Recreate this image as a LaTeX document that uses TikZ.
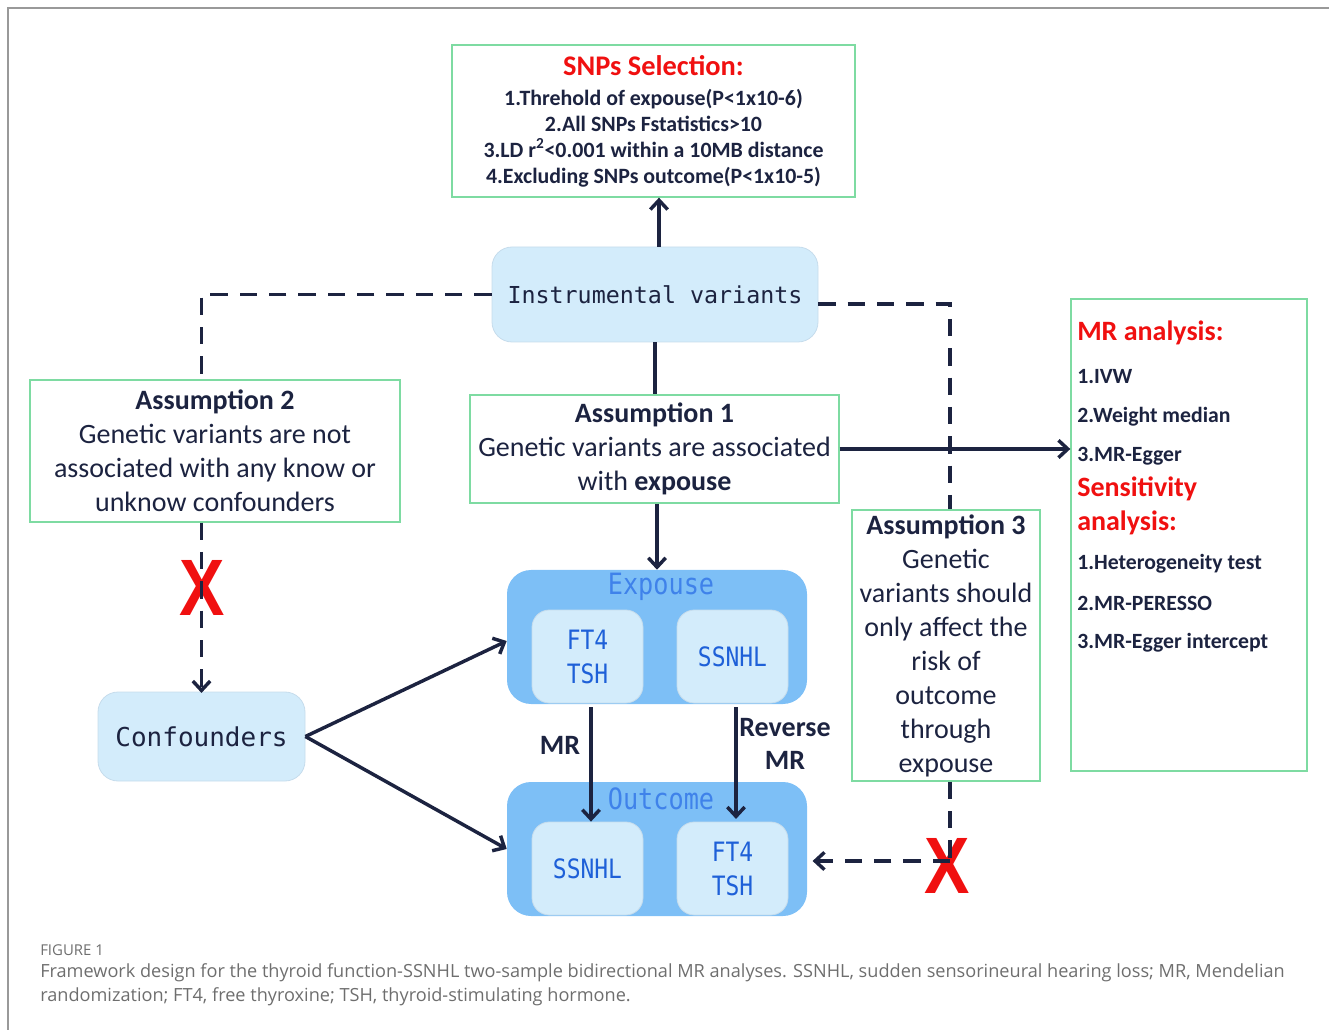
\documentclass[tikz,border=0pt]{standalone}
\usepackage{graphicx}
\usepackage{fontspec}
\setmainfont{Carlito}
\newfontfamily\monof{DejaVu Sans Mono}
\newfontfamily\capf{Open Sans}
\newfontfamily\xfont{Liberation Sans}
\usetikzlibrary{arrows.meta}
\definecolor{navy}{HTML}{1C2340}
\definecolor{boxgreen}{HTML}{7EDBA2}
\definecolor{lightblue}{HTML}{D3ECFB}
\definecolor{midblue}{HTML}{7DBFF6}
\definecolor{titleblue}{HTML}{3F82EA}
\definecolor{innerblue}{HTML}{1E60D8}
\definecolor{edgeblue}{HTML}{C6DCEC}
\definecolor{redx}{HTML}{F01010}
\definecolor{capgray}{HTML}{6E6E6E}
\newcommand\narrowtxt[1]{\scalebox{0.86}[1]{#1}}
\tikzset{
  gbox/.style={draw=boxgreen, line width=1pt, fill=white, text=navy, align=center, inner sep=0pt},
  lbox/.style={draw=edgeblue, line width=0.6pt, fill=lightblue, rounded corners=15pt, text=navy, inner sep=0pt},
  outerbox/.style={draw=none, fill=midblue, rounded corners=18pt, inner sep=0pt, minimum width=225pt, minimum height=100.5pt},
  innerbox/.style={draw=edgeblue, line width=0.6pt, fill=lightblue, rounded corners=13pt, inner sep=0pt, minimum width=83.25pt, minimum height=69.75pt, text=innerblue, align=center, font=\monof\fontsize{20}{25.5}\selectfont},
  grouptitle/.style={text=titleblue, font=\monof\fontsize{22}{24}\selectfont, inner sep=0pt},
  conn/.style={draw=navy, line width=2.6pt},
  arr/.style={conn, -{Straight Barb[length=7pt,width=13pt]}},
  dconn/.style={conn, dash pattern=on 13pt off 9pt},
  darr/.style={dconn, -{Straight Barb[length=7pt,width=13pt]}},
  redmark/.style={text=redx, font=\xfont\bfseries\fontsize{60}{60}\selectfont, inner sep=0pt},
  mritem/.style={anchor=west, text=navy, font=\bfseries\fontsize{16.3}{19}\selectfont, inner sep=0pt},
  mrhead/.style={anchor=west, text=redx, font=\bfseries\fontsize{21}{24}\selectfont, inner sep=0pt},
  edgelabel/.style={text=navy, font=\bfseries\fontsize{21}{25}\selectfont, inner sep=0pt, align=center},
  asmtext/.style={font=\fontsize{21}{25.5}\selectfont},
  captext/.style={anchor=west, text=capgray, font=\capf\fontsize{13.6}{16}\selectfont, inner sep=0pt}
}
\begin{document}
\begin{tikzpicture}[x=0.75pt,y=-0.75pt]
\useasboundingbox (0,0) rectangle (1329,1030);
\draw[draw=gray!80, line width=1.4pt] (8,1030) -- (8,8) -- (1329,8);

% SNPs selection box
\node[gbox, minimum width=302.25pt, minimum height=114pt, font=\bfseries\fontsize{16.4}{19.5}\selectfont] (snps) at (653.5,121)
  {{\color{redx}\fontsize{21.3}{22}\selectfont SNPs Selection:}\\[3pt]
   1.Threhold of expouse(P<1x10-6)\\
   2.All SNPs Fstatistics>10\\
   3.LD r\textsuperscript{2}<0.001 within a 10MB distance\\
   4.Excluding SNPs outcome(P<1x10-5)};

% Instrumental variants
\node[lbox, minimum width=244.5pt, minimum height=71.25pt, font=\monof\fontsize{17.5}{20}\selectfont] (iv) at (655,294.5) {Instrumental variants};

% Assumption 1
\node[gbox, asmtext, minimum width=276.75pt, minimum height=81pt] (a1) at (654.5,449)
  {\textbf{Assumption 1}\\Genetic variants are associated\\with \textbf{expouse}};

% Assumption 2
\node[gbox, asmtext, minimum width=277.5pt, minimum height=106.5pt] (a2) at (215,451)
  {\textbf{Assumption 2}\\Genetic variants are not\\associated with any know or\\unknow confounders};

% Assumption 3
\node[gbox, asmtext, minimum width=141pt, minimum height=203.25pt] (a3) at (946,645.5)
  {\textbf{Assumption 3}\\Genetic\\variants should\\only affect the\\risk of\\outcome\\through\\expouse};

% MR analysis box
\node[gbox, minimum width=177pt, minimum height=354pt] (mr) at (1189,535) {};
\node[mrhead] (mrh1) at (1077,333) {MR analysis:};
\node[mritem] (mri1) at (1077,377) {1.IVW};
\node[mritem] (mri2) at (1077,417) {2.Weight median};
\node[mritem] (mri3) at (1077,456) {3.MR-Egger};
\node[mrhead] (mrh2) at (1077,489) {Sensitivity};
\node[mrhead] (mrh3) at (1077,523) {analysis:};
\node[mritem] (mri4) at (1077,564) {1.Heterogeneity test};
\node[mritem] (mri5) at (1077,603) {2.MR-PERESSO};
\node[mritem] (mri6) at (1077,643) {3.MR-Egger intercept};

% Confounders
\node[lbox, minimum width=155.25pt, minimum height=66.75pt, font=\monof\fontsize{19.5}{22}\selectfont] (conf) at (201.5,736.5) {Confounders};

% Exposure group
\node[outerbox] (expo) at (657,637) {};
\node[grouptitle] (expot) at (661,587) {\narrowtxt{Expouse}};
\node[innerbox] (e1) at (587.5,656.5) {\narrowtxt{FT4}\\\narrowtxt{TSH}};
\node[innerbox] (e2) at (732.5,656.5) {\narrowtxt{SSNHL}};

% Outcome group
\node[outerbox] (outc) at (657,849) {};
\node[grouptitle] (outct) at (661,799) {\narrowtxt{Outcome}};
\node[innerbox] (o1) at (587.5,868.5) {\narrowtxt{SSNHL}};
\node[innerbox] (o2) at (732.5,868.5) {\narrowtxt{FT4}\\\narrowtxt{TSH}};

% red X marks
\node[redmark, xscale=0.85] (x1) at (202,588) {X};
\node[redmark, xscale=0.85] (x2) at (947,866) {X};

% edge labels
\node[edgelabel] (lmr) at (560,745) {MR};
\node[edgelabel] (lrev) at (785,744) {Reverse\\MR};

% connectors
\draw[arr] (iv.north -| 659,0) -- (snps.south -| 659,0);
\draw[conn] (iv.south) -- (a1.north -| iv.south);
\draw[arr] (a1.east) -- (a1.east -| mr.west);
\draw[arr] (a1.south -| expo.north) -- (expo.north);

\draw[dconn] (iv.west) -- (iv.west -| conf.north) -- (a2.north -| conf.north);
\draw[darr] (a2.south -| conf.north) -- ([yshift=-1pt]conf.north);

\draw[arr] (conf.east) -- ([yshift=-3pt]expo.west);
\draw[arr] (conf.east) -- (outc.west);

\coordinate (mrs) at ([yshift=-3pt]e1.south -| 591,0);
\draw[arr] (mrs) -- (o1.north -| mrs);
\coordinate (rvs) at ([yshift=-3pt]e2.south -| 736,0);
\draw[arr] (rvs) -- ([yshift=2pt]o2.north -| rvs);

\coordinate (ivr) at ([yshift=-7pt]iv.east);
\coordinate (a3top) at (a3.north -| 950,0);
\draw[dconn] (ivr) -- (ivr -| a3top) -- (a3top);
\coordinate (a3bot) at (a3.south -| 950,0);
\coordinate (xc) at (950,861);
\draw[dconn] (a3bot) -- (xc);
\draw[darr] (xc) -- ([xshift=4pt]xc -| outc.east);

% caption
\node[captext, font=\capf\fontsize{11.2}{13}\selectfont] (cap0) at (40,950) {FIGURE 1};
\node[captext] (cap1) at (40,973) {Framework design for the thyroid function-SSNHL two-sample bidirectional MR analyses. SSNHL, sudden sensorineural hearing loss; MR, Mendelian};
\node[captext] (cap2) at (40,997) {randomization; FT4, free thyroxine; TSH, thyroid-stimulating hormone.};
\end{tikzpicture}
\end{document}
